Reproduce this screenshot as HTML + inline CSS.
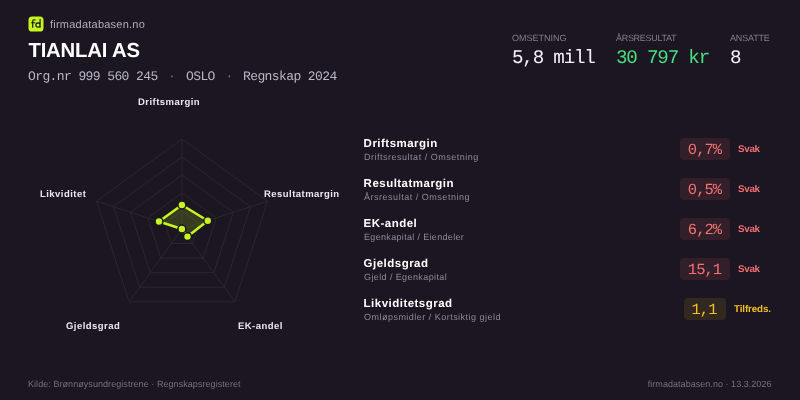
<!DOCTYPE html>
<html lang="no">
<head>
<meta charset="utf-8">
<title>TIANLAI AS – firmadatabasen.no</title>
<style>
*{margin:0;padding:0;box-sizing:border-box}
html,body{width:800px;height:400px;overflow:hidden;background:#1b1621}
body{position:relative;text-rendering:geometricPrecision;font-family:"Liberation Sans",sans-serif;color:#f4f2f8}
#w{position:absolute;left:0;top:0;width:800px;height:400px;will-change:transform}
.a{position:absolute;white-space:pre;line-height:1}
.mono{font-family:"Liberation Mono",monospace}
.logo{left:28px;top:16.5px;width:15.5px;height:15px;border-radius:3.5px;background:#c6f51f}
.brand{left:50px;top:19.5px;font-size:11px;letter-spacing:.23px;color:#b0adbc}
.name{left:28.4px;top:41.4px;font-size:20.3px;font-weight:700;letter-spacing:-.15px;color:#fff}
.meta{top:70.2px;font-size:13px;letter-spacing:-.6px;color:#b9b6c5}
.dot{color:#6f6c7b}
.klab{top:33.5px;font-size:9px;color:#827e8e}
.kval{top:49.4px;font-size:19.2px;letter-spacing:-1.18px;color:#f4f2f8}
.rl{font-size:9.5px;font-weight:700;letter-spacing:.46px;color:#e9e7f0}
.t{left:363.6px;font-size:11.5px;font-weight:700;letter-spacing:.48px;color:#fff}
.s{left:364px;font-size:9px;color:#8d8999}
.b{height:22px;border-radius:4px;font-size:15.5px;letter-spacing:-.95px;text-align:center;line-height:24.4px;overflow:hidden}
.b.r{left:680px;width:50px;padding-right:1px;background:#321f2a;color:#f27272}
.b.y{left:684px;width:42px;padding-right:2px;background:#33281f;color:#f8be25}
.l{font-size:9.8px;font-weight:700}
.l.r{left:738px;letter-spacing:-.3px;color:#f27272}
.l.y{left:734px;letter-spacing:-.12px;color:#f8be25}
.f{top:379.5px;font-size:9px;color:#74707f}
</style>
</head>
<body>
<div id="w">
<svg class="a" style="left:24px;top:12px" width="24" height="24" viewBox="24 12 24 24">
<rect x="28.5" y="16.5" width="15" height="15" rx="3.6" fill="#c6f51f"/>
<g fill="none" stroke="#15121b" stroke-width="1.15" stroke-linecap="round" stroke-linejoin="round">
<path d="M35.1,20 C33.6,19.4 32.7,20 32.7,21.4 L32.7,27.2 M31.6,22.7 L34.8,22.7"/>
<path d="M40.1,19.3 L40.1,27.2 M40.1,25 a2.1,2.2 0 1 0 -4.2,0 a2.1,2.2 0 1 0 4.2,0"/>
</g>
</svg>
<div class="a brand">firmadatabasen.no</div>
<div class="a name">TIANLAI AS</div>
<div class="a mono meta" style="left:28px">Org.nr 999 560 245</div>
<div class="a mono meta dot" style="left:168px">·</div>
<div class="a mono meta" style="left:186px">OSLO</div>
<div class="a mono meta dot" style="left:225.4px">·</div>
<div class="a mono meta" style="left:243px">Regnskap 2024</div>

<div class="a klab" style="left:512px">OMSETNING</div>
<div class="a klab" style="left:616px;letter-spacing:-.3px">ÅRSRESULTAT</div>
<div class="a klab" style="left:730px;letter-spacing:-.17px">ANSATTE</div>
<div class="a mono kval" style="left:512px">5,8 mill</div>
<div class="a mono kval" style="left:616px;color:#4ade80">30 797 kr</div>
<div class="a mono kval" style="left:730px">8</div>

<svg class="a" style="left:0;top:0" width="400" height="400" viewBox="0 0 400 400">
<g fill="none" stroke="#2a272d" stroke-width="1">
<polygon points="182.0,139.0 267.6,201.2 234.9,301.8 129.1,301.8 96.4,201.2"/>
<polygon points="182.0,157.0 250.5,206.8 224.3,287.2 139.7,287.2 113.5,206.8"/>
<polygon points="182.0,175.0 233.4,212.3 213.7,272.7 150.3,272.7 130.6,212.3"/>
<polygon points="182.0,193.0 216.2,217.9 203.2,258.1 160.8,258.1 147.8,217.9"/>
<polygon points="182.0,211.0 199.1,223.4 192.6,243.6 171.4,243.6 164.9,223.4"/>
<path d="M182,229L182.0,139.0M182,229L267.6,201.2M182,229L234.9,301.8M182,229L129.1,301.8M182,229L96.4,201.2"/>
</g>
<polygon points="181.9,205 207.75,220.7 187.5,236.6 181.9,229 159,221.5" fill="rgba(198,245,31,.17)" stroke="#c6f51f" stroke-width="2.5" stroke-linejoin="round"/>
<g fill="#c6f51f" stroke="#1b1621" stroke-width="1.5">
<circle cx="181.9" cy="205" r="3.95"/><circle cx="207.75" cy="220.7" r="3.95"/><circle cx="187.5" cy="236.6" r="3.95"/><circle cx="181.9" cy="229" r="3.95"/><circle cx="159" cy="221.5" r="3.95"/>
</g>
</svg>
<div class="a rl" style="left:138px;top:98px">Driftsmargin</div>
<div class="a rl" style="left:264px;top:190px">Resultatmargin</div>
<div class="a rl" style="left:40px;top:190px">Likviditet</div>
<div class="a rl" style="left:66px;top:322px">Gjeldsgrad</div>
<div class="a rl" style="left:238px;top:322px">EK-andel</div>

<div class="a t" style="top:139.3px">Driftsmargin</div>
<div class="a s" style="top:153.4px;letter-spacing:0.51px">Driftsresultat / Omsetning</div>
<div class="a mono b r" style="top:138px">0,7%</div>
<div class="a l r" style="top:144.8px">Svak</div>

<div class="a t" style="top:179.3px">Resultatmargin</div>
<div class="a s" style="top:193.4px;letter-spacing:0.52px">Årsresultat / Omsetning</div>
<div class="a mono b r" style="top:178px">0,5%</div>
<div class="a l r" style="top:184.8px">Svak</div>

<div class="a t" style="top:219.3px">EK-andel</div>
<div class="a s" style="top:233.4px;letter-spacing:0.33px">Egenkapital / Eiendeler</div>
<div class="a mono b r" style="top:218px">6,2%</div>
<div class="a l r" style="top:224.8px">Svak</div>

<div class="a t" style="top:259.3px">Gjeldsgrad</div>
<div class="a s" style="top:273.4px;letter-spacing:0.4px">Gjeld / Egenkapital</div>
<div class="a mono b r" style="top:258px">15,1</div>
<div class="a l r" style="top:264.8px">Svak</div>

<div class="a t" style="top:299.3px">Likviditetsgrad</div>
<div class="a s" style="top:313.4px;letter-spacing:0.48px">Omløpsmidler / Kortsiktig gjeld</div>
<div class="a mono b y" style="top:298px">1,1</div>
<div class="a l y" style="top:304.8px">Tilfreds.</div>

<div class="a f" style="left:28px;letter-spacing:.06px">Kilde: Brønnøysundregistrene · Regnskapsregisteret</div>
<div class="a f" style="right:28.5px;letter-spacing:.04px">firmadatabasen.no · 13.3.2026</div>
</div>
</body>
</html>
